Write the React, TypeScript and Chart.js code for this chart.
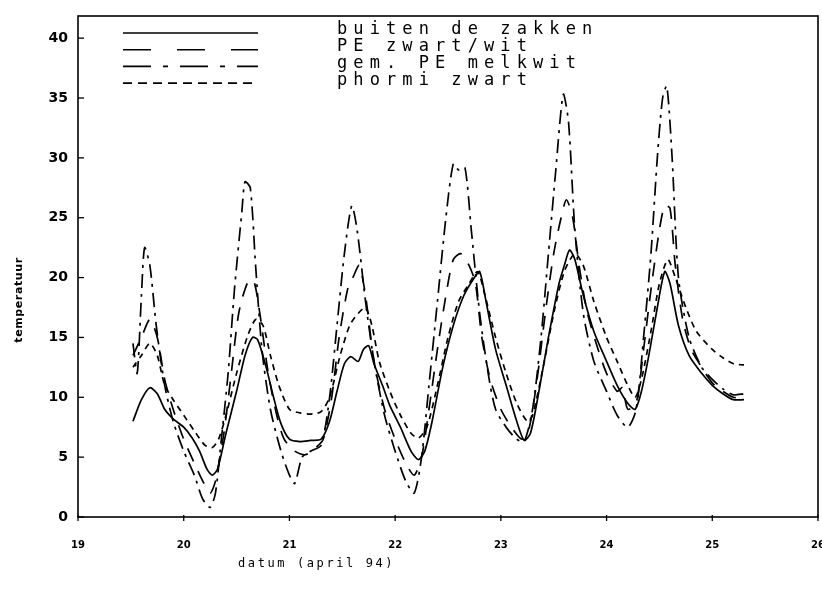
import React, { useEffect, useRef } from "react";
import { Chart, registerables } from "chart.js";
Chart.register(...registerables);

const seriesLabels = ["buiten de zakken", "PE zwart/wit", "gem. PE melkwit", "phormi zwart"];
const xTickValues = [19, 20, 21, 22, 23, 24, 25, 26];
const yTickValues = [0, 5, 10, 15, 20, 25, 30, 35, 40];
const xTitle = "datum (april 94)";
const yTitle = "temperatuur";

const buitenX = [19.52, 19.6, 19.68, 19.75, 19.82, 19.9, 20.0, 20.08, 20.15, 20.22, 20.27, 20.32, 20.4, 20.5, 20.58, 20.65, 20.7, 20.78, 20.85, 20.92, 21.0, 21.1, 21.2, 21.3, 21.38, 21.45, 21.52, 21.58, 21.65, 21.7, 21.75, 21.8, 21.88, 21.95, 22.05, 22.15, 22.22, 22.28, 22.35, 22.45, 22.55, 22.65, 22.75, 22.8, 22.86, 22.95, 23.05, 23.15, 23.22, 23.28, 23.35, 23.45, 23.55, 23.6, 23.65, 23.7, 23.78, 23.88, 24.0, 24.1, 24.2, 24.27, 24.33, 24.4, 24.48, 24.55, 24.6, 24.68, 24.78, 24.9, 25.0, 25.1, 25.2, 25.3];
const buitenY = [8.0, 9.8, 10.8, 10.3, 9.0, 8.2, 7.5, 6.6, 5.5, 4.0, 3.5, 4.0, 7.0, 10.5, 13.5, 15.0, 14.8, 12.5, 10.0, 7.8, 6.5, 6.3, 6.4, 6.5, 8.0, 10.5, 12.8, 13.4, 13.0, 14.0, 14.3, 12.8, 11.0, 9.3, 7.5, 5.5, 4.8, 5.5, 8.0, 12.5, 16.0, 18.5, 20.0, 20.5, 18.0, 14.0, 11.0, 8.0, 6.4, 7.0, 10.0, 15.0, 19.5, 21.0, 22.3, 21.5, 18.5, 15.5, 13.0, 11.0, 9.5, 9.0, 10.5, 13.5, 17.5, 20.5, 19.5, 16.0, 13.5, 12.0, 11.0, 10.3, 9.8, 9.8];

const zwartWitX = [19.52, 19.6, 19.68, 19.75, 19.82, 19.9, 20.0, 20.1, 20.18, 20.25, 20.3, 20.38, 20.45, 20.52, 20.6, 20.66, 20.72, 20.8, 20.88, 20.95, 21.05, 21.15, 21.25, 21.32, 21.4, 21.47, 21.55, 21.6, 21.66, 21.72, 21.8, 21.9, 22.0, 22.1, 22.18, 22.25, 22.32, 22.4, 22.48, 22.55, 22.62, 22.7, 22.76, 22.82, 22.9, 23.0, 23.1, 23.2, 23.27, 23.35, 23.42, 23.5, 23.57, 23.62, 23.68, 23.74, 23.82, 23.92, 24.0, 24.1, 24.15, 24.2, 24.28, 24.35, 24.42, 24.5, 24.55, 24.6, 24.65, 24.72, 24.8, 24.9, 25.0, 25.1, 25.2, 25.3];
const zwartWitY = [13.5, 15.0, 16.5, 15.0, 11.5, 9.0, 6.5, 4.5, 3.0, 2.0, 3.0, 7.0, 12.0, 17.0, 19.5, 19.8, 17.0, 12.0, 8.5, 6.5, 5.5, 5.2, 5.8, 6.5, 10.0, 15.0, 19.0, 20.0, 21.0, 18.5, 13.0, 9.0, 6.5, 4.5, 3.5, 5.0, 9.0, 14.0, 18.5, 21.5, 22.0, 21.0, 19.5, 15.0, 11.5, 9.0, 7.5, 6.5, 7.5, 12.0, 17.0, 22.0, 25.0, 26.5, 25.0, 21.0, 17.0, 14.0, 12.0, 10.5, 10.8, 9.0, 9.5, 14.0, 19.0, 24.0, 26.0, 25.8, 21.0, 16.5, 14.0, 12.5, 11.2, 10.5, 10.0, 10.0];

const melkwitX = [19.52, 19.56, 19.6, 19.63, 19.68, 19.74, 19.82, 19.9, 20.0, 20.1, 20.18, 20.25, 20.3, 20.35, 20.42, 20.48, 20.55, 20.58, 20.63, 20.68, 20.74, 20.82, 20.92, 21.0, 21.05, 21.12, 21.2, 21.3, 21.38, 21.45, 21.52, 21.59, 21.64, 21.72, 21.8, 21.9, 22.0, 22.1, 22.18, 22.25, 22.32, 22.4, 22.48, 22.55, 22.6, 22.66, 22.72, 22.8, 22.88, 22.95, 23.05, 23.15, 23.22, 23.3, 23.38, 23.45, 23.52, 23.59, 23.64, 23.7, 23.78, 23.88, 24.0, 24.1, 24.2, 24.28, 24.35, 24.42, 24.48, 24.53, 24.57, 24.62, 24.68, 24.78, 24.9, 25.0, 25.1, 25.2, 25.3];
const melkwitY = [14.5, 12.0, 18.5, 22.5, 21.0, 16.0, 11.0, 8.0, 5.5, 3.5, 1.5, 0.8, 2.0, 6.0, 12.0, 19.0, 25.5, 28.0, 27.5, 21.0, 14.0, 9.0, 5.5, 3.5, 2.8, 5.0, 5.5, 6.0, 10.0, 16.0, 22.0, 26.0, 24.0, 18.0, 13.0, 8.5, 5.5, 3.0, 2.0, 5.0, 11.0, 18.0, 25.0, 29.5, 29.0, 29.2, 24.0, 17.0, 12.0, 9.0, 7.5, 6.5, 6.3, 9.0, 15.0, 22.0, 29.0, 35.3, 33.0, 24.0, 17.0, 13.0, 10.5, 8.5, 7.5, 9.0, 15.0, 22.0, 30.0, 35.0, 36.0, 30.0, 20.0, 15.0, 12.5, 11.5, 10.7, 10.2, 10.3];

const phormiX = [19.52, 19.6, 19.68, 19.75, 19.82, 19.9, 20.0, 20.1, 20.2, 20.27, 20.33, 20.4, 20.5, 20.6, 20.68, 20.75, 20.82, 20.9, 21.0, 21.1, 21.2, 21.3, 21.38, 21.48, 21.57, 21.65, 21.72, 21.78, 21.85, 21.95, 22.05, 22.15, 22.22, 22.3, 22.4, 22.5, 22.6, 22.7, 22.78, 22.85, 22.95, 23.05, 23.15, 23.25, 23.3, 23.4, 23.5, 23.6, 23.7, 23.78, 23.88, 24.0, 24.1, 24.2, 24.27, 24.33, 24.42, 24.5, 24.58, 24.65, 24.75, 24.85, 25.0, 25.1, 25.2, 25.3];
const phormiY = [12.5, 13.5, 14.5, 13.5, 11.0, 9.8, 8.5, 7.2, 6.0, 5.8, 6.5, 8.5, 12.0, 15.0, 16.5, 16.0, 13.5, 11.0, 9.0, 8.7, 8.6, 8.8, 10.0, 13.5, 16.0, 17.0, 17.5, 16.0, 13.0, 10.5, 8.5, 7.0, 6.6, 7.5, 11.0, 15.0, 18.0, 19.5, 20.5, 18.5, 15.0, 12.0, 9.5, 8.0, 8.5, 12.5, 17.0, 20.5, 22.0, 21.0, 18.0, 15.0, 13.0, 11.0, 10.0, 11.5, 15.5, 19.5, 21.5, 20.0, 17.5, 15.5, 14.0, 13.3, 12.8, 12.7];

const seriesX = [buitenX, zwartWitX, melkwitX, phormiX];
const seriesY = [buitenY, zwartWitY, melkwitY, phormiY];
const plotDashes = [[], [14, 11], [14, 6, 3, 6], [6, 5]];
const legendDashes = [[], [28, 26], [28, 12, 5, 12], [9, 6]];

const decorPlugin = {
  id: "decor",
  afterDraw(chart: any) {
    const { ctx, chartArea: a, scales } = chart;
    const xs = scales.x;
    const ys = scales.y;
    ctx.save();
    ctx.strokeStyle = "#000";
    ctx.lineWidth = 1.6;
    ctx.setLineDash([]);
    ctx.strokeRect(a.left, a.top, a.right - a.left, a.bottom - a.top);
    ctx.lineWidth = 1.3;
    yTickValues.forEach((v) => {
      const py = ys.getPixelForValue(v);
      ctx.beginPath();
      ctx.moveTo(a.left, py);
      ctx.lineTo(a.left + 6, py);
      ctx.stroke();
    });
    xTickValues.forEach((v) => {
      const px = xs.getPixelForValue(v);
      ctx.beginPath();
      ctx.moveTo(px, a.bottom - 2);
      ctx.lineTo(px, a.bottom + 4);
      ctx.stroke();
    });
    // legend
    ctx.fillStyle = "#000";
    ctx.textBaseline = "middle";
    ctx.textAlign = "left";
    ctx.font = "17px 'DejaVu Sans Mono'";
    (ctx as any).letterSpacing = "6.1px";
    seriesLabels.forEach((lab, i) => {
      const cy = 30 + i * 16.7;
      ctx.lineWidth = 1.6;
      ctx.setLineDash(legendDashes[i]);
      ctx.beginPath();
      ctx.moveTo(123, cy + 3);
      ctx.lineTo(258, cy + 3);
      ctx.stroke();
      ctx.setLineDash([]);
      ctx.fillText(lab, 337, cy);
    });
    // x title
    ctx.font = "12px 'DejaVu Sans Mono'";
    (ctx as any).letterSpacing = "2.6px";
    ctx.textBaseline = "alphabetic";
    ctx.fillText(xTitle, 238, 567);
    // y title
    ctx.translate(22, 300);
    ctx.rotate(-Math.PI / 2);
    ctx.textAlign = "center";
    ctx.font = "bold 11px 'DejaVu Sans'";
    (ctx as any).letterSpacing = "0.6px";
    ctx.fillText(yTitle, 0, 0);
    ctx.restore();
  },
};

export default function App() {
  const ref = useRef<HTMLCanvasElement | null>(null);
  useEffect(() => {
    if (!ref.current) return;
    const datasets = seriesLabels.map((lab, i) => ({
      label: lab,
      data: seriesX[i].map((x, j) => ({ x, y: seriesY[i][j] })),
      borderColor: "#000",
      backgroundColor: "#000",
      borderWidth: 1.7,
      borderDash: plotDashes[i],
      pointRadius: 0,
      tension: 0.25,
      fill: false,
    }));
    const chart = new Chart(ref.current, {
      type: "line",
      data: { datasets },
      options: {
        animation: false,
        responsive: false,
        devicePixelRatio: 1,
        layout: { padding: { top: 16, right: 4, left: 0, bottom: 0 } },
        plugins: { legend: { display: false }, tooltip: { enabled: false } },
        scales: {
          x: {
            type: "linear",
            min: 19,
            max: 26,
            grid: { display: false, drawTicks: false },
            border: { display: false },
            ticks: {
              stepSize: 1,
              color: "#000",
              padding: 22,
              font: { family: "'DejaVu Sans'", size: 10, weight: "bold" },
            },
            afterFit: (s: any) => {
              s.height = 77;
              s.paddingLeft = 0;
              s.paddingRight = 0;
            },
          },
          y: {
            min: 0,
            max: 41.85,
            grid: { display: false, drawTicks: false },
            border: { display: false },
            afterBuildTicks: (s: any) => {
              s.ticks = yTickValues.map((v) => ({ value: v }));
            },
            ticks: {
              color: "#000",
              padding: 10,
              font: { family: "'DejaVu Sans'", size: 14, weight: "bold" },
            },
            afterFit: (s: any) => {
              s.width = 78;
              s.paddingTop = 0;
              s.paddingBottom = 0;
            },
          },
        },
      },
      plugins: [decorPlugin],
    });
    return () => chart.destroy();
  }, []);
  return (
    <div style={{ position: "absolute", left: 0, top: 0, width: 822, height: 594, background: "#fff" }}>
      <canvas ref={ref} width={822} height={594} />
    </div>
  );
}
